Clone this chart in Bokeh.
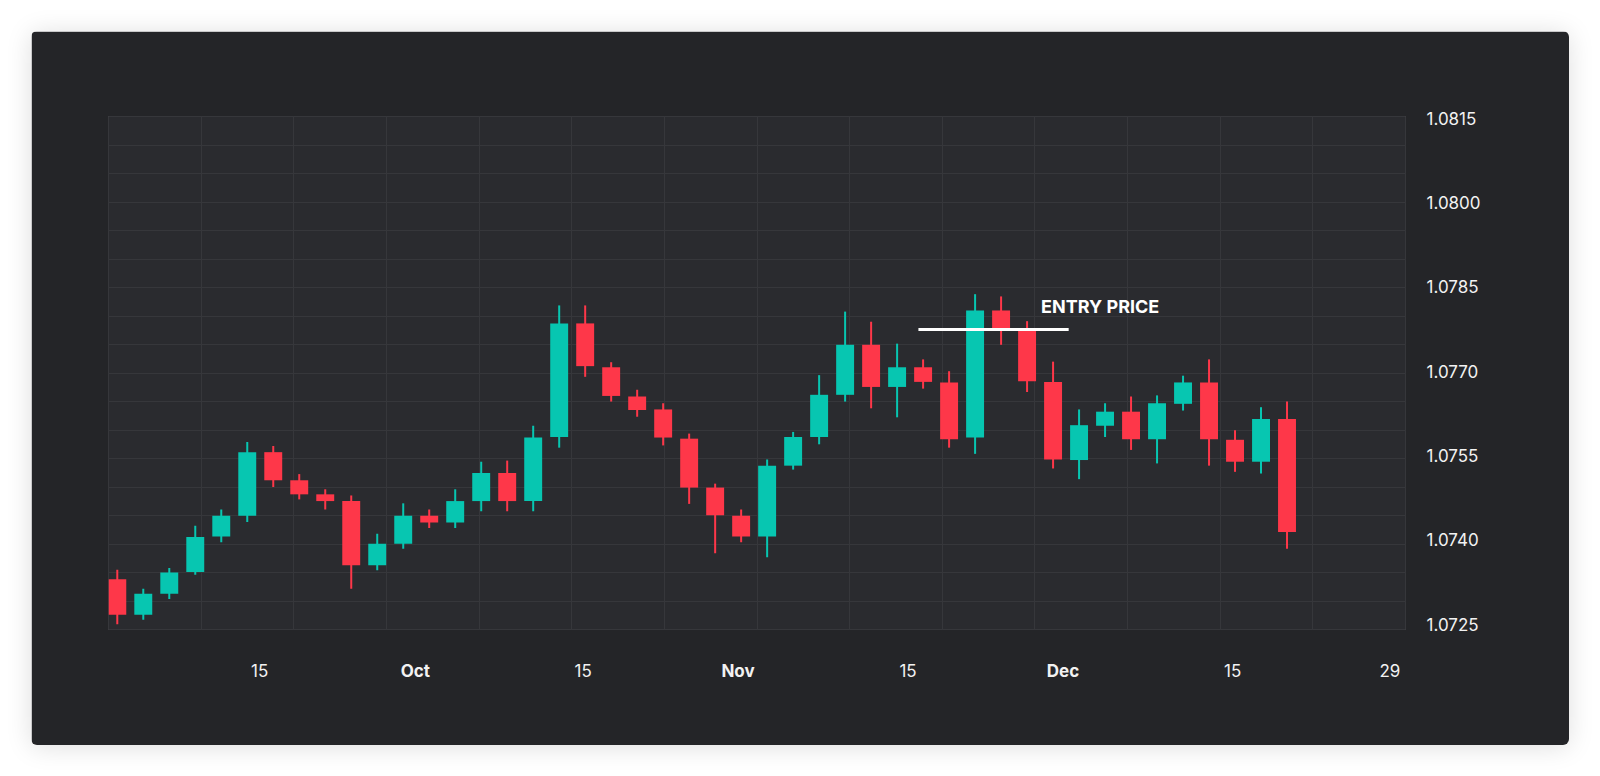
import numpy as np
from bokeh.embed import file_html
from bokeh.models import ColumnDataSource, FixedTicker, Label, LinearAxis, Range1d, NumeralTickFormatter
from bokeh.plotting import figure
from bokeh.resources import INLINE

# --- ohlc, one bar per slot ---
opens = [1.07330, 1.07267, 1.07304, 1.07343, 1.07406, 1.07443, 1.07556, 1.07506, 1.07481, 1.07469,
         1.07355, 1.07393, 1.07443, 1.07431, 1.07469, 1.07519, 1.07469, 1.07583, 1.07785, 1.07707,
         1.07655, 1.07632, 1.07580, 1.07493, 1.07443, 1.07406, 1.07532, 1.07583, 1.07658, 1.07747,
         1.07672, 1.07707, 1.07680, 1.07582, 1.07808, 1.07773, 1.07681, 1.07542, 1.07603, 1.07628,
         1.07579, 1.07642, 1.07680, 1.07578, 1.07539, 1.07615]
highs = [1.07347, 1.07313, 1.07350, 1.07425, 1.07454, 1.07574, 1.07567, 1.07517, 1.07490, 1.07479,
         1.07411, 1.07465, 1.07454, 1.07490, 1.07539, 1.07541, 1.07603, 1.07817, 1.07817, 1.07716,
         1.07667, 1.07643, 1.07589, 1.07500, 1.07454, 1.07543, 1.07592, 1.07693, 1.07806, 1.07788,
         1.07749, 1.07721, 1.07700, 1.07837, 1.07833, 1.07789, 1.07717, 1.07632, 1.07643, 1.07655,
         1.07657, 1.07692, 1.07721, 1.07595, 1.07636, 1.07646]
lows = [1.07250, 1.07258, 1.07295, 1.07338, 1.07396, 1.07432, 1.07494, 1.07472, 1.07454, 1.07313,
        1.07346, 1.07384, 1.07421, 1.07421, 1.07451, 1.07451, 1.07451, 1.07564, 1.07690, 1.07646,
        1.07619, 1.07568, 1.07464, 1.07376, 1.07396, 1.07369, 1.07525, 1.07570, 1.07646, 1.07634,
        1.07618, 1.07669, 1.07564, 1.07553, 1.07747, 1.07663, 1.07527, 1.07508, 1.07583, 1.07560,
        1.07536, 1.07630, 1.07532, 1.07521, 1.07518, 1.07384]
closes = [1.07267, 1.07304, 1.07342, 1.07405, 1.07443, 1.07556, 1.07506, 1.07481, 1.07469, 1.07355,
          1.07393, 1.07443, 1.07431, 1.07469, 1.07519, 1.07469, 1.07582, 1.07785, 1.07709, 1.07656,
          1.07631, 1.07582, 1.07493, 1.07444, 1.07406, 1.07532, 1.07583, 1.07658, 1.07747, 1.07672,
          1.07707, 1.07681, 1.07579, 1.07808, 1.07775, 1.07682, 1.07543, 1.07604, 1.07628, 1.07579,
          1.07643, 1.07680, 1.07579, 1.07539, 1.07615, 1.07414]

# --- axis labels (positions in bar-number units) ---
day_ticks = [5.48, 17.92, 30.42, 42.91, 48.96]
day_labels = ["15", "15", "15", "15", "29"]
month_ticks = [11.47, 23.88, 36.38]
month_labels = ["Oct", "Nov", "Dec"]
price_ticks = [1.0725, 1.0740, 1.0755, 1.0770, 1.0785, 1.0800, 1.0815]

entry_price = 1.07774
entry_from, entry_to = 30.82, 36.6
entry_text = "ENTRY PRICE"

GREEN = "#07c6b1"
RED = "#fe3749"
PANEL = "#242528"
PLOT_BG = "#2a2b2f"
GRID = "#36373b"
TEXT = "#f2f2f2"
FONT = "Inter"

o = np.array(opens)
h = np.array(highs)
l = np.array(lows)
c = np.array(closes)
x = np.arange(len(o))
up = c >= o
down = ~up

common = dict(x=x, top=np.maximum(o, c), bottom=np.minimum(o, c), high=h, low=l)
inc_src = ColumnDataSource({k: v[up] for k, v in common.items()})
dec_src = ColumnDataSource({k: v[down] for k, v in common.items()})

x0, x1 = -0.338, 49.558
y0, y1 = 1.072406, 1.08153

p = figure(
    width=1538,
    height=714,
    x_range=Range1d(x0, x1),
    y_range=Range1d(y0, y1),
    y_axis_location="right",
    output_backend="svg",
    toolbar_location=None,
    min_border_left=77,
    min_border_right=164,
    min_border_top=85,
    min_border_bottom=116,
    margin=(31, 0, 0, 31),
    styles={"border-radius": "6px", "overflow": "hidden",
            "box-shadow": "0 2px 26px rgba(0,0,0,0.13)"},
)
p.border_fill_color = PANEL
p.background_fill_color = PLOT_BG
p.outline_line_color = GRID

# grid: 14 columns, 18 rows
p.xgrid.ticker = FixedTicker(ticks=list(np.linspace(x0, x1, 15)))
p.ygrid.ticker = FixedTicker(ticks=list(np.linspace(y0, y1, 19)))
p.grid.grid_line_color = GRID
p.grid.grid_line_width = 1


def style_axis(ax, bold=False):
    ax.axis_line_color = None
    ax.major_tick_line_color = None
    ax.minor_tick_line_color = None
    ax.major_label_text_color = TEXT
    ax.major_label_text_font = FONT
    ax.major_label_text_font_size = "17px"
    if bold:
        ax.major_label_text_font_style = "bold"


style_axis(p.yaxis[0])
style_axis(p.xaxis[0])

p.yaxis.ticker = FixedTicker(ticks=price_ticks)
p.yaxis.formatter = NumeralTickFormatter(format="0.0000")
p.yaxis.major_label_standoff = 15

# day numbers
p.xaxis.ticker = FixedTicker(ticks=day_ticks)
p.xaxis.major_label_overrides = {t: s for t, s in zip(day_ticks, day_labels)}
p.xaxis.major_label_standoff = 28

# month names in bold, pulled up onto the same line as the day numbers
month_axis = LinearAxis(ticker=FixedTicker(ticks=month_ticks),
                        major_label_overrides={t: s for t, s in zip(month_ticks, month_labels)})
style_axis(month_axis, bold=True)
month_axis.major_label_standoff = -25
p.add_layout(month_axis, "below")

# candles
p.segment(x0="x", y0="high", x1="x", y1="low", source=inc_src, line_color=GREEN, line_width=2)
p.segment(x0="x", y0="high", x1="x", y1="low", source=dec_src, line_color=RED, line_width=2)
p.vbar(x="x", width=0.69, top="top", bottom="bottom", source=inc_src,
       fill_color=GREEN, line_color=None)
p.vbar(x="x", width=0.69, top="top", bottom="bottom", source=dec_src,
       fill_color=RED, line_color=None)

# entry marker
p.segment(x0=[entry_from], y0=[entry_price], x1=[entry_to], y1=[entry_price],
          line_color="white", line_width=3)
p.add_layout(Label(x=35.54, y=1.07815, text=entry_text, text_baseline="alphabetic",
                   text_color="white", text_font=FONT, text_font_size="18px",
                   text_font_style="bold"))

open("out.html", "w").write(file_html(p, INLINE))
